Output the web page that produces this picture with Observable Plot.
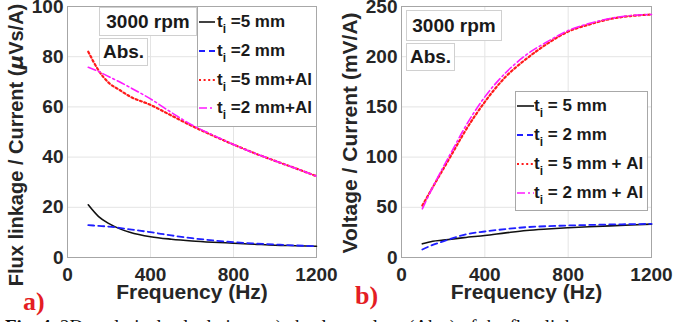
<!DOCTYPE html>
<html>
<head>
<meta charset="utf-8">
<script src="https://cdn.jsdelivr.net/npm/d3@7"></script>
<script src="https://cdn.jsdelivr.net/npm/@observablehq/plot@0.6"></script>
<style>
  body { margin: 0; background: #fff; }
  #root { position: relative; width: 674px; height: 322px; overflow: hidden; background: #fff;
          font-family: "Liberation Sans", Arial, sans-serif; color: #262626; }
  .panel { position: absolute; top: 0; }
  .box { position: absolute; background: #fff; border: 1px solid #d0d0d0; font-weight: bold;
         font-size: 19px; line-height: 26px; text-align: center; box-sizing: border-box; color: #1a1a1a; }
  .legend { position: absolute; background: #fff; border: 1px solid #a8a8a8; box-sizing: border-box; }
  .entry { position: absolute; left: 0; height: 20px; white-space: nowrap; font-weight: bold;
           font-size: 17px; line-height: 20px; color: #1a1a1a; }
  .entry svg { position: absolute; left: 1px; top: 0; }
  .entry span.t { position: absolute; top: 0; }
  .entry sub { font-size: 12px; vertical-align: -6px; line-height: 0; }
  .tag { position: absolute; font-family: "Liberation Serif", "Times New Roman", serif; font-weight: bold;
         font-size: 26px; color: #e41d24; line-height: 26px; }
  .caption { position: absolute; left: 5px; top: 317px; white-space: nowrap;
             font-family: "Liberation Serif", "Times New Roman", serif; font-size: 19px; line-height: 19px; color: #111; }
</style>
</head>
<body>
<div id="root">
  <div id="pa" class="panel" style="left:0"></div>
  <div id="pb" class="panel" style="left:334px"></div>
</div>
<script>
// ---------- data ----------
const freq = [100, 150, 200, 250, 300, 400, 500, 600, 700, 800, 900, 1000, 1100, 1200];

// panel a: flux linkage / current (µVs/A)
const fluxT5   = [21, 16.3, 13.5, 11.5, 10.1, 8.3, 7.3, 6.6, 6.1, 5.7, 5.3, 4.9, 4.7, 4.5];
const fluxT2   = [12.9, 12.6, 12.3, 11.8, 11.2, 10.1, 8.8, 7.7, 6.8, 6.1, 5.6, 5.2, 4.8, 4.5];
const fluxT5Al = [82, 74.5, 69.5, 66.8, 64.2, 60.8, 56.6, 52.4, 48.6, 45, 41.6, 38.5, 35.5, 32.4];
const fluxT2Al = [75.8, 74.1, 72, 70, 67.8, 63.2, 57.8, 52.8, 48.8, 45, 41.6, 38.5, 35.5, 32.4];

// panel b: voltage / current (mV/A)
const voltT5   = [13.6, 16.2, 17.3, 18.5, 19.8, 21.9, 24.5, 26.9, 28.4, 29.6, 30.6, 31.5, 32.4, 33.2];
const voltT2   = [8, 12.5, 16, 19.5, 22.6, 25.9, 28.3, 30.2, 31.2, 31.9, 32.4, 32.9, 33.2, 33.5];
const voltT5Al = [51.8, 70, 88, 106, 124, 155, 180, 198, 213, 225, 232, 237.5, 240.5, 242];
const voltT2Al = [48.5, 70, 90, 109, 128, 160, 184, 202, 215, 226, 233, 238, 241, 242];

const xTicks  = [0, 400, 800, 1200];
const yTicksA = [0, 20, 40, 60, 80, 100];
const yTicksB = [0, 50, 100, 150, 200, 250];

const xLabel  = "Frequency (Hz)";
const yLabelA = "Flux linkage / Current (μVs/A)";
const yLabelB = "Voltage / Current (mV/A)";

const legendA = [" =5 mm", " =2 mm", " =5 mm+Al", " =2 mm+Al"];
const legendB = [" = 5 mm", " = 2 mm", " = 5 mm + Al", " = 2 mm + Al"];
const speedText = "3000 rpm";
const modeText = "Abs.";
const tags = ["a)", "b)"];
const caption = "Fig. 4.";
const captionRest = " 2D analytical calculations: a) absolute values (Abs.) of the flux linkage";

// ---------- styles ----------
const seriesStyle = [
  {stroke: "#111111", strokeWidth: 1.6, dash: null},
  {stroke: "#1f1fff", strokeWidth: 1.8, dash: "6,4"},
  {stroke: "#ff1a1a", strokeWidth: 2.2, dash: "2,2.6"},
  {stroke: "#ff1aff", strokeWidth: 1.6, dash: "8,3,2,3"}
];

function rows(ys) { return freq.map((f, i) => ({f, v: ys[i]})); }

function makePanel(opts) {
  const marks = [
    Plot.gridX(xTicks, {stroke: "#e4e4e4", strokeOpacity: 1}),
    Plot.gridY(opts.yTicks, {stroke: "#e4e4e4", strokeOpacity: 1}),
    Plot.frame({stroke: "#a6a6a6"}),
    Plot.axisX(xTicks, {tickSize: 0, tickPadding: 10, label: null, tickFormat: d => String(d),
      fontSize: 19, fontWeight: "bold", fill: "#262626"}),
    Plot.axisY(opts.yTicks, {tickSize: 0, tickPadding: 4, label: null, tickFormat: d => String(d),
      fontSize: 19, fontWeight: "bold", fill: "#262626"}),
  ];
  opts.series.forEach((ys, i) => {
    const s = seriesStyle[i];
    marks.push(Plot.line(rows(ys), {x: "f", y: "v", stroke: s.stroke, strokeWidth: s.strokeWidth,
      strokeDasharray: s.dash, curve: "monotone-x"}));
  });
  marks.push(Plot.text([xLabel], {frameAnchor: "bottom", dy: 41, text: d => d, fontSize: 21,
    fontWeight: "bold", fill: "#262626"}));
  marks.push(Plot.text([opts.yLabel], {frameAnchor: "left", textAnchor: "middle", rotate: -90, dx: -51, dy: opts.yLabelDy,
    text: d => d, fontSize: opts.yLabelSize, fontWeight: "bold", fill: "#262626"}));
  const svg = Plot.plot({
    width: opts.width, height: 322,
    marginLeft: 67, marginRight: opts.marginRight, marginTop: 6, marginBottom: 65,
    x: {domain: [0, 1200]},
    y: {domain: opts.yDomain},
    style: {fontFamily: "'Liberation Sans', Arial, sans-serif", background: "transparent", overflow: "visible"},
    marks
  });
  // italic mu in the y label
  d3.select(svg).selectAll("text").filter(function() { return this.textContent === yLabelA; })
    .each(function() {
      const t = d3.select(this);
      t.text(null);
      t.append("tspan").text("Flux linkage / Current (");
      t.append("tspan").attr("font-style", "italic").attr("font-family", "'DejaVu Sans', sans-serif").text("μ");
      t.append("tspan").text("Vs/A)");
    });
  return svg;
}

document.getElementById("pa").appendChild(makePanel({
  width: 334, marginRight: 18, yDomain: [0, 100], yTicks: yTicksA,
  series: [fluxT5, fluxT2, fluxT5Al, fluxT2Al], yLabel: yLabelA, yLabelDy: 13, yLabelSize: 20
}));
document.getElementById("pb").appendChild(makePanel({
  width: 340, marginRight: 23, yDomain: [0, 250], yTicks: yTicksB,
  series: [voltT5, voltT2, voltT5Al, voltT2Al], yLabel: yLabelB, yLabelDy: 1, yLabelSize: 21
}));

// ---------- annotations ----------
const root = document.getElementById("root");
function addBox(text, left, top, w, h) {
  const d = document.createElement("div");
  d.className = "box";
  d.style.cssText = `left:${left}px;top:${top}px;width:${w}px;height:${h}px;line-height:${h - 2}px`;
  d.textContent = text;
  root.appendChild(d);
}
function addLegend(labels, left, top, w, h, rowYs, sampleW, textX) {
  const L = document.createElement("div");
  L.className = "legend";
  L.style.cssText = `left:${left}px;top:${top}px;width:${w}px;height:${h}px`;
  labels.forEach((lab, i) => {
    const s = seriesStyle[i];
    const e = document.createElement("div");
    e.className = "entry";
    e.style.top = (rowYs[i] - top - 10) + "px";
    e.style.width = w + "px";
    e.innerHTML = `<svg width="${sampleW}" height="20"><line x1="0" x2="${sampleW}" y1="10" y2="10" stroke="${s.stroke}" stroke-width="${s.strokeWidth}" ${s.dash ? `stroke-dasharray="${s.dash}"` : ""}/></svg>` +
      `<span class="t" style="left:${textX}px">t<sub>i</sub>${lab.replace(/ /g, "&nbsp;")}</span>`;
    L.appendChild(e);
  });
  root.appendChild(L);
}
addBox(speedText, 99, 7, 98, 29);
addBox(modeText, 99, 38, 49, 28);
addBox(speedText, 406, 10, 96, 31);
addBox(modeText, 406, 43, 49, 28);
addLegend(legendA, 197, 6, 120, 121, [21, 50, 79, 107], 16, 19);
addLegend(legendB, 515, 91, 133, 120, [105, 134, 163, 192], 17, 18);

[[tags[0], 23, 289], [tags[1], 355, 283]].forEach(([t, x, y]) => {
  const d = document.createElement("div");
  d.className = "tag";
  d.style.left = x + "px"; d.style.top = y + "px";
  d.textContent = t;
  root.appendChild(d);
});
const cap = document.createElement("div");
cap.className = "caption";
cap.innerHTML = `<b>${caption}</b>${captionRest}`;
root.appendChild(cap);
</script>
</body>
</html>
